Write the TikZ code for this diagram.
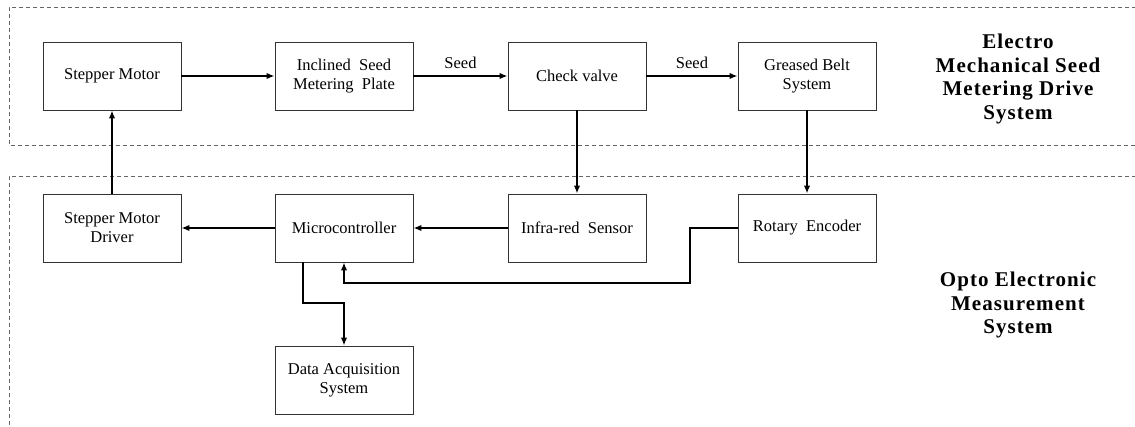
\documentclass[tikz,border=0pt]{standalone}
\usepackage{fontspec}
\setmainfont{Liberation Serif}
\usetikzlibrary{arrows.meta}
\begin{document}
\begin{tikzpicture}[x=1pt,y=1pt,
  blk/.style={draw=black!80,line width=0.9pt,minimum width=138pt,minimum height=68pt,align=center,inner sep=2pt,font=\fontsize{16.5}{19}\selectfont},
  arr/.style={draw=black,line width=2pt,-{Latex[length=8pt,width=6.5pt]}},
  region/.style={draw=black!60,line width=0.9pt,dash pattern=on 4pt off 3pt},
  ttl/.style={align=center,font=\fontsize{21}{23.5}\selectfont\bfseries\addfontfeatures{LetterSpace=5}},
  lbl/.style={font=\fontsize{16.5}{19}\selectfont}]
\useasboundingbox (0,0) rectangle (1135,-427);
\clip (0,0) rectangle (1135,-427);
\fill[white] (0,0) rectangle (1135,-427);
% regions
\draw[region] (1150,-7) -- (9,-7) -- (9,-145) -- (1150,-145);
\draw[region] (1150,-176) -- (9,-176) -- (9,-440);
% boxes
\node[blk] (sm) at (112,-76) {Stepper Motor};
\node[blk] (isp) at (344,-76) {Inclined\ \ Seed\\Metering\ \ Plate};
\node[blk] (cv) at (577,-76) {Check valve};
\node[blk] (gbs) at (807,-76) {Greased Belt\\System};
\node[blk] (smd) at (112,-228) {Stepper Motor\\Driver};
\node[blk] (mc) at (344,-228) {Microcontroller};
\node[blk] (irs) at (577,-228) {Infra-red\ \ Sensor};
\node[blk] (re) at (807,-228) {Rotary\ \ Encoder};
\node[blk] (daq) at (344,-380) {Data Acquisition\\System};
% titles
\node[ttl] (t1) at (1018,-79) {Electro\\Mechanical Seed\\Metering Drive\\System};
\node[ttl] (t2) at (1018,-305) {Opto Electronic\\Measurement\\System};
% connectors
\draw[arr] (sm) -- (isp);
\draw[arr] (isp) -- node[lbl,above=3pt] {Seed} (cv);
\draw[arr] (cv) -- node[lbl,above=3pt] {Seed} (gbs);
\draw[arr] (cv) -- (irs);
\draw[arr] (gbs) -- (re);
\draw[arr] (smd) -- (sm);
\draw[arr] (mc) -- (smd);
\draw[arr] (irs) -- (mc);
\coordinate (r1) at (690,-283);
\draw[arr] (re.west) -| (r1) -| (mc.south);
\coordinate (m1) at (303,-303);
\draw[arr] (mc.south -| m1) -- (m1) -| (daq.north);
\end{tikzpicture}
\end{document}
